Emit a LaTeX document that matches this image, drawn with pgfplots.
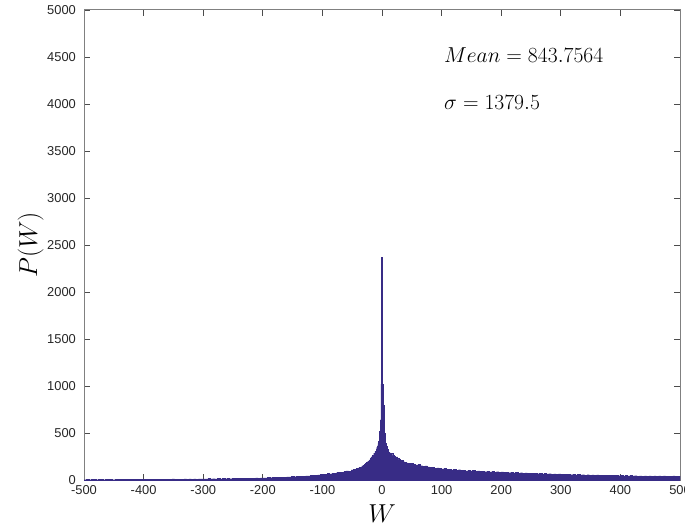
\documentclass[border=0pt]{standalone}
\usepackage[no-math]{fontspec}
\usepackage{pgfplots}
\pgfplotsset{compat=1.18}
\usetikzlibrary{calc}
\newfontfamily\tickfont{Liberation Sans}
\definecolor{histc}{RGB}{56,44,134}
\begin{document}
\begin{tikzpicture}
\begin{axis}[
  scale only axis,
  width=476.8pt, height=376pt,
  xmin=-500, xmax=500, ymin=0, ymax=5000,
  xtick={-500,-400,...,500},
  ytick={0,500,...,5000},
  tick align=inside,
  major tick length=4.8pt,
  axis line style={draw=gray, line width=0.8pt},
  every tick/.style={draw=black!70, line width=0.6pt},
  ticklabel style={font=\tickfont\fontsize{10.3}{12}\selectfont, text=black!85},
  /pgf/number format/assume math mode=true,
  /pgf/number format/1000 sep={},
  scaled y ticks=false,
  xticklabel style={yshift=-1pt},
  yticklabel style={xshift=-3pt},
  xlabel={$W$}, ylabel={$P(W)$},
  label style={font=\fontsize{20}{24}\selectfont},
  xlabel style={yshift=-1pt},
  ylabel style={yshift=-4pt},
  clip=true,
]
\addplot[const plot mark left, fill=histc, draw=histc, line width=0.2pt] table {
x y
-500 4
-496 6
-492 3
-488 5
-484 7
-480 4
-476 5
-472 6
-468 4
-464 8
-460 5
-456 6
-452 4
-448 7
-444 5
-440 6
-436 8
-432 5
-428 6
-424 7
-420 5
-416 9
-412 6
-408 7
-404 5
-400 8
-396 6
-392 7
-388 9
-384 6
-380 8
-376 7
-372 10
-368 7
-364 8
-360 9
-356 7
-352 11
-348 8
-344 9
-340 10
-336 8
-332 12
-328 9
-324 11
-320 10
-316 13
-312 10
-308 12
-304 11
-300 13
-296 11
-292 15
-288 12
-284 14
-280 13
-276 16
-272 12
-268 15
-264 14
-260 17
-256 14
-252 16
-248 15
-244 18
-240 16
-236 19
-232 17
-228 20
-224 18
-220 21
-216 19
-212 22
-208 20
-204 23
-200 24
-196 22
-192 26
-188 25
-184 28
-180 26
-176 30
-172 28
-168 32
-164 30
-160 34
-156 33
-152 36
-148 35
-144 39
-140 37
-136 42
-132 40
-128 45
-124 44
-120 48
-116 47
-112 52
-108 55
-104 58
-100 62
-96 60
-92 68
-88 66
-84 74
-80 72
-76 80
-72 85
-68 82
-64 92
-60 98
-56 95
-52 108
-48 115
-44 122
-40 130
-38 138
-36 135
-34 150
-32 158
-30 165
-28 175
-26 185
-24 200
-22 215
-20 235
-18 248
-16 262
-14 285
-12 305
-10 330
-9 350
-8 362
-7 390
-6 410
-5 440
-4 520
-3 640
-2 1020
-1 2370
0 1020
1 1020
2 800
3 620
4 500
5 430
6 390
7 360
8 340
9 325
10 300
12 290
14 275
16 282
18 262
20 255
22 240
24 246
26 228
28 220
30 212
32 205
34 210
36 195
38 188
40 182
44 176
48 180
52 168
56 160
60 164
64 152
68 148
72 150
76 140
80 132
84 138
88 126
92 130
96 122
100 118
104 124
108 112
112 115
116 108
120 112
124 105
128 110
132 102
136 106
140 98
144 103
148 96
152 100
156 94
160 97
164 92
168 95
172 89
176 93
180 87
184 90
188 85
192 88
196 84
200 86
204 80
208 84
212 78
216 82
220 76
224 80
228 74
232 78
236 72
240 76
244 70
248 74
252 69
256 72
260 67
264 70
268 65
272 69
276 64
280 67
284 62
288 66
292 61
296 64
300 60
304 63
308 58
312 62
316 57
320 60
324 55
328 59
332 54
336 57
340 53
344 56
348 52
352 55
356 51
360 54
364 50
368 53
372 49
376 52
380 48
384 51
388 47
392 50
396 46
400 49
404 45
408 48
412 44
416 47
420 43
424 46
428 42
432 45
436 41
440 44
444 42
448 45
452 41
456 43
460 40
464 44
468 41
472 43
476 39
480 42
484 40
488 43
492 39
496 41
500 41
} \closedcycle;
\node[anchor=west, font=\fontsize{19}{23}\selectfont] at (axis cs:97,4521) {$Mean = 843.7564$};
\node[anchor=west, font=\fontsize{19}{23}\selectfont] at (axis cs:97,4011) {$\sigma = 1379.5$};
\end{axis}
\pgfresetboundingbox
\path[use as bounding box] ($(current axis.south west)+(-67.2pt,-40.8pt)$) rectangle ($(current axis.north east)+(4pt,8pt)$);
\end{tikzpicture}
\end{document}
